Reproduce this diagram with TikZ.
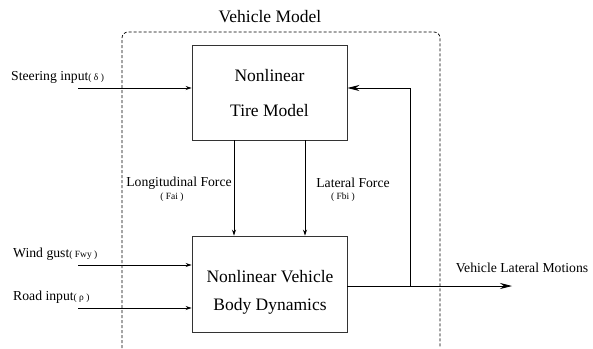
\documentclass[tikz,border=0pt]{standalone}
\usepackage{fontspec}
\setmainfont{Liberation Serif}
\usetikzlibrary{arrows.meta}
\newcommand\subtxt[1]{{\fontsize{9.5}{11}\selectfont #1}}
\begin{document}
\begin{tikzpicture}[x=1pt,y=-1pt,
  blockbox/.style={draw=black!80,line width=0.9pt,minimum width=155pt,inner sep=0pt},
  blocktext/.style={inner sep=0pt,align=center,font=\fontsize{17.5}{28}\selectfont},
  lbl/.style={inner sep=0pt,font=\fontsize{13.7}{16}\selectfont},
  sublbl/.style={inner sep=0pt,font=\fontsize{9.5}{11}\selectfont},
  smallarr/.style={line width=0.8pt,-{Stealth[length=6pt,width=4pt]}},
  bigarr/.style={line width=0.8pt,-{Stealth[length=12pt,width=6pt]}},
  frame/.style={densely dashed,line width=0.7pt,rounded corners=6pt}]
\useasboundingbox (0,0) rectangle (593,348);
% frame
\coordinate (fbl) at (122,348);
\coordinate (fbr) at (440,348);
\draw[frame] (fbl) -- (122,32) -- (440,32) -- (fbr);
\node[inner sep=0pt,font=\fontsize{17.5}{20}\selectfont] (title) at (270,17) {Vehicle Model};
% blocks
\node[blockbox,minimum height=95pt] (tire) at (269.5,92.5) {};
\node[blocktext] (tiretxt) at (269.5,93) {Nonlinear\\[7pt]Tire Model};
\node[blockbox,minimum height=96pt] (body) at (269.5,284) {};
\node[blocktext] (bodytxt) at (270,292) {Nonlinear Vehicle\\[0pt]Body Dynamics};
% inputs
\coordinate (sin) at (78,88);
\coordinate (win) at (78,265);
\coordinate (rin) at (78,308);
\draw[smallarr] (sin) -- (sin -| tire.west);
\draw[smallarr] (win) -- (win -| body.west);
\draw[smallarr] (rin) -- (rin -| body.west);
\node[lbl,anchor=west] (slab) at (11,77) {Steering input\subtxt{( δ )}};
\node[lbl,anchor=west] (wlab) at (13,254) {Wind gust\subtxt{( Fwy )}};
\node[lbl,anchor=west] (rlab) at (13,297) {Road input\subtxt{( ρ )}};
% forces
\coordinate (la) at (234,140);
\coordinate (lb) at (305,140);
\draw[smallarr] (la) -- (la |- body.north);
\draw[smallarr] (lb) -- (lb |- body.north);
\node[lbl] (lf) at (179,183) {Longitudinal Force};
\node[sublbl] (fai) at (172,197) {( Fai )};
\node[lbl] (latf) at (353,183) {Lateral Force};
\node[sublbl] (fbi) at (343,197) {( Fbi )};
% output
\coordinate (out) at (512,286);
\coordinate (tap) at (410,286);
\coordinate (fbk) at (410,88);
\draw[bigarr] (body.east |- out) -- (out);
\draw[bigarr] (tap) -- (fbk) -- (tire.east |- fbk);
\node[lbl] (olab) at (522,268) {Vehicle Lateral Motions};
\end{tikzpicture}
\end{document}
